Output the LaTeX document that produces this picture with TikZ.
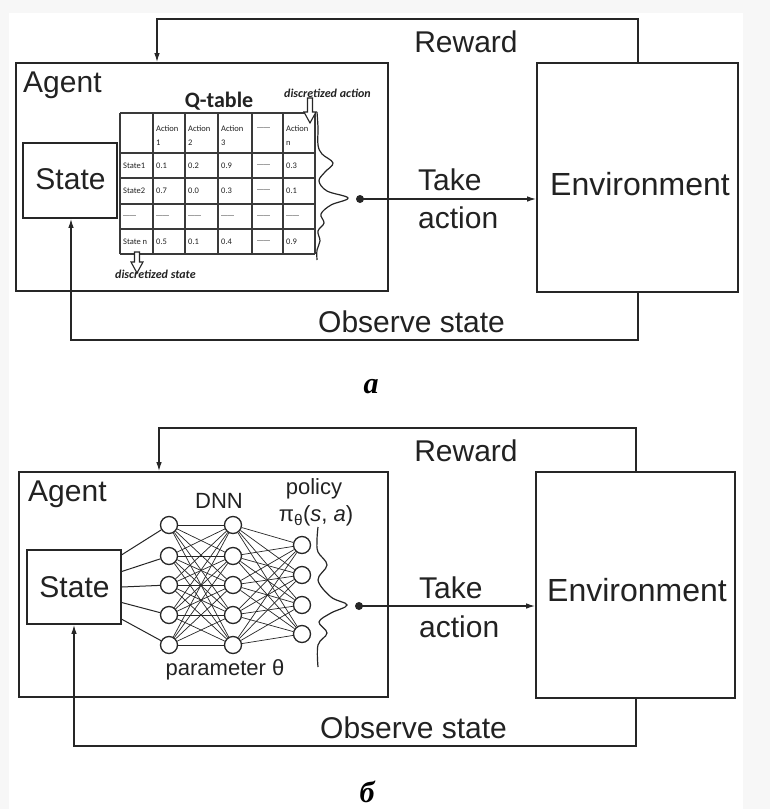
\documentclass[tikz,border=0pt]{standalone}
\usepackage{fontspec}
\setmainfont{Liberation Sans}
\newfontfamily\calfont{Carlito}
\newfontfamily\serifbi{Liberation Serif}
\usetikzlibrary{arrows.meta}
\definecolor{linec}{HTML}{262626}
\definecolor{txtc}{HTML}{222222}
\definecolor{tabc}{HTML}{3A3A3A}
\newcommand\qdash{{\normalfont\fontsize{6.5}{14}\selectfont ——}}
\tikzset{
  box/.style={draw=linec, line width=1.7pt, inner sep=0pt},
  conn/.style={draw=linec, line width=1.3pt, -{Latex[length=9pt,width=5.5pt]}},
  lbl/.style={font=\fontsize{30}{36}\selectfont, text=txtc, inner sep=0pt},
  envlbl/.style={font=\fontsize{32}{36}\selectfont, text=txtc, inner sep=0pt},
  small/.style={font=\fontsize{22}{26}\selectfont, text=txtc, inner sep=0pt},
  neuron/.style={circle, draw=linec, line width=1.3pt, fill=white, minimum size=17pt, inner sep=0pt},
  nnedge/.style={draw=linec, line width=0.7pt},
  inedge/.style={draw=linec, line width=1pt},
  dotn/.style={circle, fill=linec, minimum size=8pt, inner sep=0pt},
  wave/.style={draw=linec, line width=1.2pt},
  cellt/.style={font=\calfont\fontsize{8.5}{14}\selectfont, text=txtc, inner sep=0pt, anchor=west, align=left},
  tabline/.style={draw=tabc, line width=1.2pt},
  dfont/.style={font=\calfont\bfseries\itshape\fontsize{12}{14}\selectfont, text=txtc, inner sep=0pt},
  hollow/.style={draw=linec, line width=1.1pt, fill=white},
  panel/.style={font=\serifbi\bfseries\itshape\fontsize{30}{30}\selectfont, text=black, inner sep=0pt}
}
\begin{document}
\begin{tikzpicture}[x=1pt,y=-1pt]
\useasboundingbox (0,0) rectangle (770,809);
\fill[black!3] (0,0) rectangle (770,809);
\fill[white] (9,13) rectangle (743,809);

% ================= PANEL a =================
\node[box, minimum width=372pt, minimum height=228pt] (ag1) at (202,177) {};
\node[box, minimum width=94pt, minimum height=75pt] (st1) at (70,180.5) {};
\node[lbl, anchor=base] (st1t) at (70.5,189) {State};
\node[box, minimum width=201pt, minimum height=229pt] (en1) at (637.5,177.5) {};
\node[envlbl, anchor=base] (en1t) at (640,195) {Environment};
\node[lbl, anchor=base west] (ag1t) at (23,92) {Agent};
\node[lbl, anchor=base] (rw1) at (466,52) {Reward};
\node[lbl, anchor=base west] (tk1) at (418,190) {Take};
\node[lbl, anchor=base west] (ac1) at (418,228) {action};
\node[lbl, anchor=base west] (ob1) at (318,332) {Observe state};

% Q-table
\foreach \y in {113,153,178,204,229,254} \draw[tabline] (120,\y) -- (315,\y);
\foreach \x in {120,153,185,218,252,283,315} \draw[tabline] (\x,113) -- (\x,254);
\node[font=\calfont\bfseries\fontsize{22}{24}\selectfont, text=txtc, inner sep=0pt, anchor=base] (qt) at (219,107) {Q-table};
\node[cellt] (h1) at (156,136) {Action\\1};
\node[cellt] (h2) at (188,136) {Action\\2};
\node[cellt] (h3) at (221,136) {Action\\3};
\node[cellt] (h4) at (257,129) {\qdash};
\node[cellt] (h5) at (286,136) {Action\\n};
\foreach \r/\y/\s/\a/\b/\c/\d in {1/165.5/State1/0.1/0.2/0.9/0.3, 2/191/State2/0.7/0.0/0.3/0.1, 3/216.5/\qdash/\qdash/\qdash/\qdash/\qdash, 4/241.5/State n/0.5/0.1/0.4/0.9}{
  \node[cellt] (r\r c0) at (123,\y) {\s};
  \node[cellt] (r\r c1) at (156,\y) {\a};
  \node[cellt] (r\r c2) at (188,\y) {\b};
  \node[cellt] (r\r c3) at (221,\y) {\c};
  \node[cellt] (r\r c4) at (257,\y) {\qdash};
  \node[cellt] (r\r c5) at (286,\y) {\d};
}
\node[dfont, anchor=base west] (da) at (284,97) {discretized action};
\node[dfont, anchor=base west] (ds) at (115,278) {discretized state};
\draw[hollow] (307.5,98) -- (312.5,98) -- (312.5,112) -- (316,112) -- (310,123) -- (304,112) -- (307.5,112) -- cycle;
\draw[hollow] (134.5,252) -- (139.5,252) -- (139.5,262) -- (143,262) -- (137,273) -- (131,262) -- (134.5,262) -- cycle;
\draw[wave] plot[smooth, tension=0.6] coordinates {(317,112) (318,128) (318,145) (322,154) (333,163) (325,172) (319,181) (327,191) (348,198) (331,205) (321,214) (324,223) (318,231) (320,241) (317,250) (317,260)};

\node[dotn] (dot1) at (360,199) {};
\draw[conn] (dot1.center) -- (en1.west |- dot1.center);
\coordinate (r1a) at (638,19);
\coordinate (r1b) at (157,19);
\draw[conn] (en1.north -| r1a) -- (r1a) -- (r1b) -- (ag1.north -| r1b);
\coordinate (o1a) at (638,340);
\coordinate (o1b) at (71,340);
\draw[conn] (en1.south -| o1a) -- (o1a) -- (o1b) -- (st1.south -| o1b);
\node[panel, anchor=base] (pa) at (371,393) {a};

% ================= PANEL b =================
\node[box, minimum width=369pt, minimum height=225pt] (ag2) at (203.5,584.5) {};
\node[box, minimum width=94pt, minimum height=74pt] (st2) at (74,587) {};
\node[lbl, anchor=base] (st2t) at (74.5,597) {State};
\node[box, minimum width=199pt, minimum height=226pt] (en2) at (635.5,585) {};
\node[envlbl, anchor=base] (en2t) at (637,601) {Environment};
\node[lbl, anchor=base west] (ag2t) at (28,501) {Agent};
\node[lbl, anchor=base] (rw2) at (466,461) {Reward};
\node[lbl, anchor=base west] (tk2) at (419,598) {Take};
\node[lbl, anchor=base west] (ac2) at (419,637) {action};
\node[lbl, anchor=base west] (ob2) at (320,738) {Observe state};

\node[small, anchor=base] (dnn) at (219,508) {DNN};
\node[small, anchor=base] (pol) at (314,494) {policy};
\node[small, anchor=base] (pit) at (316,521) {π\textsubscript{θ}(\textit{s}, \textit{a})};
\node[small, anchor=base] (par) at (225,675) {parameter θ};

\foreach \i/\y in {1/525,2/556,3/585,4/615,5/645}{
  \node[neuron] (a\i) at (169,\y) {};
  \node[neuron] (b\i) at (233,\y) {};
}
\foreach \i/\y in {1/545,2/575,3/605,4/634}{
  \node[neuron] (c\i) at (302,\y) {};
}
\foreach \i in {1,...,5}{
  \foreach \j in {1,...,5}{ \draw[nnedge] (a\i) -- (b\j); }
  \foreach \j in {1,...,4}{ \draw[nnedge] (b\i) -- (c\j); }
}
\foreach \ang/\i in {34/1,18/2,0/3,-18/4,-34/5}{ \draw[inedge] (st2.\ang) -- (a\i); }

\draw[wave] plot[smooth, tension=0.6] coordinates {(318,527) (317,540) (318,552) (327,565) (318,580) (331,597) (347,605) (331,613) (319,622) (327,633) (318,645) (318,667)};

\node[dotn] (dot2) at (359,606) {};
\draw[conn] (dot2.center) -- (en2.west |- dot2.center);
\coordinate (r2a) at (636,428);
\coordinate (r2b) at (159,428);
\draw[conn] (en2.north -| r2a) -- (r2a) -- (r2b) -- (ag2.north -| r2b);
\coordinate (o2a) at (636,746);
\coordinate (o2b) at (74,746);
\draw[conn] (en2.south -| o2a) -- (o2a) -- (o2b) -- (st2.south -| o2b);
\node[panel, anchor=base] (pb) at (367,802) {б};
\end{tikzpicture}
\end{document}
